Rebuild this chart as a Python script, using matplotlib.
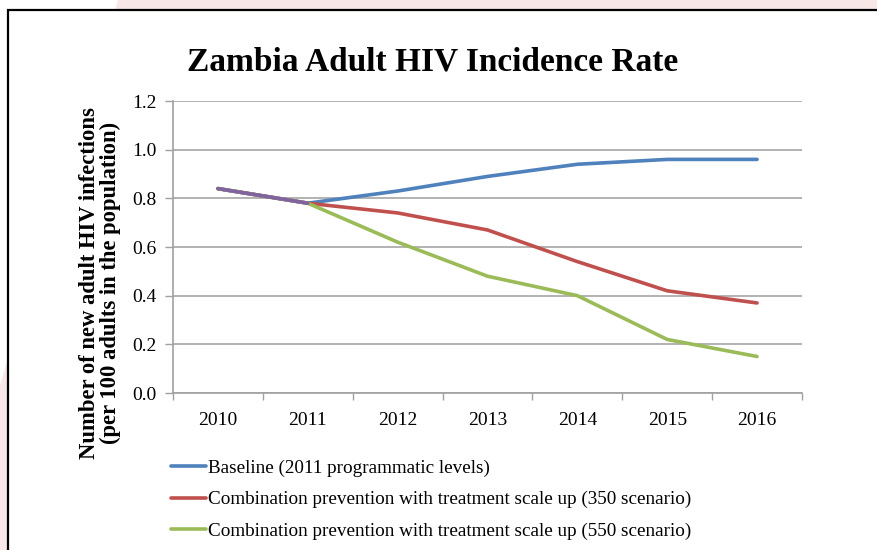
import matplotlib
matplotlib.use("Agg")
import matplotlib.pyplot as plt
from matplotlib.patches import Rectangle, Polygon
from matplotlib.ticker import FixedLocator

years = ["2010", "2011", "2012", "2013", "2014", "2015", "2016"]
baseline = [0.84, 0.78, 0.83, 0.89, 0.94, 0.96, 0.96]
scenario_350 = [0.84, 0.78, 0.74, 0.67, 0.54, 0.42, 0.37]
scenario_550 = [0.84, 0.78, 0.62, 0.48, 0.40, 0.22, 0.15]
overlap = [0.84, 0.78]
series_labels = [
    "Baseline (2011 programmatic levels)",
    "Combination prevention with treatment scale up (350 scenario)",
    "Combination prevention with treatment scale up (550 scenario)",
]
yticks = [0.0, 0.2, 0.4, 0.6, 0.8, 1.0, 1.2]

W, H = 877, 550
fig = plt.figure(figsize=(W / 100, H / 100), dpi=100)
fig.patch.set_facecolor("#f7e7e6")
fig.patches.append(Polygon([[0, 1], [118 / W, 1], [0, 1 - 385 / H]], closed=True,
                           transform=fig.transFigure, facecolor="white", edgecolor="none", zorder=0))
fig.patches.append(Rectangle((8 / W, -0.01), 1.0, 1 - 10 / H + 0.01, transform=fig.transFigure,
                             facecolor="white", edgecolor="black", linewidth=1.6, zorder=0.5))

ax = fig.add_axes([173 / W, 1 - 393 / H, (802 - 173) / W, (393 - 101) / H])
ax.set_zorder(2)
ax.set_facecolor("none")
x = list(range(len(years)))
colors = ["#4f81bd", "#c0504d", "#9bbb59"]
ax.plot(x, baseline, color=colors[0], lw=2.6, label=series_labels[0], solid_capstyle="round")
ax.plot(x, scenario_350, color=colors[1], lw=2.6, label=series_labels[1], solid_capstyle="round")
ax.plot(x, scenario_550, color=colors[2], lw=2.6, label=series_labels[2], solid_capstyle="round")
ax.plot(x[:2], overlap, color="#8064a2", lw=2.6, solid_capstyle="round")

ax.set_xlim(-0.5, len(years) - 0.5)
ax.set_ylim(0, 1.2)
ax.set_yticks(yticks)
ax.set_yticklabels([f"{v:.1f}" for v in yticks])
ax.set_xticks(x)
ax.set_xticklabels(years)
ax.xaxis.set_minor_locator(FixedLocator([i - 0.5 for i in range(len(years) + 1)]))
ax.tick_params(axis="x", which="major", length=0, pad=14)
ax.tick_params(axis="x", which="minor", length=5, color="#a0a0a0", width=1)
ax.tick_params(axis="y", length=6, color="#a0a0a0", width=1, pad=6)
ax.grid(axis="y", color="#a6a6a6", lw=1.2)
ax.set_axisbelow(True)
for s in ["top", "right"]:
    ax.spines[s].set_visible(False)
for s in ["left", "bottom"]:
    ax.spines[s].set_color("#a0a0a0")
    ax.spines[s].set_linewidth(1.2)

tick_font = "Liberation Serif"
for lab in ax.get_xticklabels() + ax.get_yticklabels():
    lab.set_fontfamily(tick_font)
    lab.set_fontsize(14)

fig.text(433 / W, 1 - 62 / H, "Zambia Adult HIV Incidence Rate", ha="center", va="center",
         fontsize=24, fontweight="bold", family="Liberation Serif")
fig.text(100 / W, 1 - 283 / H,
         "Number of new adult HIV infections\n(per 100 adults in the population)",
         ha="center", va="center", rotation=90, fontsize=16.3, fontweight="bold",
         family="Liberation Serif", linespacing=1.05)

leg = fig.legend(loc="upper left", bbox_to_anchor=(163 / W, 1 - 452 / H), frameon=False,
                 prop={"family": tick_font, "size": 13.8}, handlelength=1.85, handletextpad=0.1,
                 labelspacing=0.72, borderaxespad=0)

fig.savefig("out.png", dpi=100, facecolor=fig.get_facecolor())
